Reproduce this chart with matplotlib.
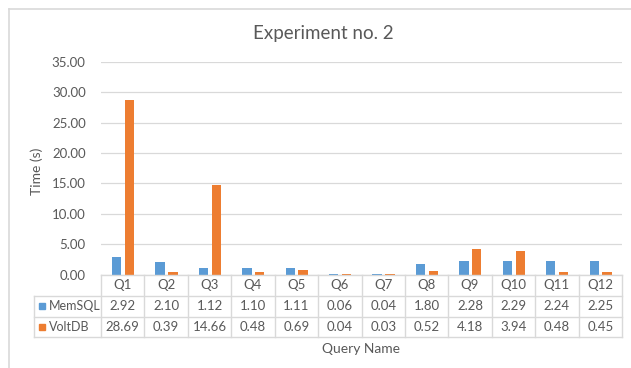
import numpy as np
import matplotlib
matplotlib.use("Agg")
import matplotlib.pyplot as plt
from matplotlib.lines import Line2D
from matplotlib.patches import Rectangle
from matplotlib.transforms import blended_transform_factory

plt.rcParams['font.family'] = ['Lato', 'DejaVu Sans']

queries = ["Q1", "Q2", "Q3", "Q4", "Q5", "Q6", "Q7", "Q8", "Q9", "Q10", "Q11", "Q12"]
memsql = [2.92, 2.10, 1.12, 1.10, 1.11, 0.06, 0.04, 1.80, 2.28, 2.29, 2.24, 2.25]
voltdb = [28.69, 0.39, 14.66, 0.48, 0.69, 0.04, 0.03, 0.52, 4.18, 3.94, 0.48, 0.45]
series_names = ["MemSQL", "VoltDB"]

BLUE = "#5B9BD5"
ORANGE = "#ED7D31"
TXT = "#595959"
GRID = "#D9D9D9"

W, H = 631, 368


def fx(x):
    return x / W


def fy(y):
    return 1 - y / H


fig = plt.figure(figsize=(W / 100, H / 100), dpi=100)

# chart frame (cut off at right/bottom like the screenshot)
fig.add_artist(Line2D([fx(8.5), fx(W + 5)], [fy(8.5), fy(8.5)], color=GRID, lw=1.2))
fig.add_artist(Line2D([fx(8.5), fx(8.5)], [fy(8.5), fy(H + 5)], color=GRID, lw=1.2))

left, right, top, bottom = 101, 622, 62, 274.5
ax = fig.add_axes([fx(left), fy(bottom), fx(right - left), (bottom - top) / H])

x = np.arange(len(queries))
bw = 0.215
ax.bar(x - 0.14, memsql, bw, color=BLUE, zorder=3)
ax.bar(x + 0.155, voltdb, bw, color=ORANGE, zorder=3)

ax.set_xlim(-0.5, len(queries) - 0.5)
ax.set_ylim(0, 35)
ax.set_yticks(np.arange(0, 36, 5))
ax.set_yticklabels([f"{v:.2f}" for v in np.arange(0, 36, 5)])
ax.tick_params(axis='y', length=0, pad=11, labelsize=9.5, labelcolor=TXT)
ax.set_xticks([])
ax.grid(axis='y', color=GRID, lw=0.9, zorder=0)
for s in ax.spines.values():
    s.set_visible(False)

fig.text(fx(323), fy(34), "Experiment no. 2", ha='center', va='center',
         fontsize=13.5, color=TXT)
fig.text(fx(37), fy(171), "Time (s)", rotation=90, ha='center', va='center',
         fontsize=10, color=TXT)
fig.text(fx(361), fy(349), "Query Name", ha='center', va='center',
         fontsize=10, color=TXT)

# data table beneath the axis
tr = blended_transform_factory(ax.transData, fig.transFigure)
rows = [bottom, 295.5, 316.5, 337]
x0, x1 = -0.5, len(queries) - 0.5
fig.add_artist(Line2D([x0, x1], [fy(rows[0])] * 2, color=GRID, lw=1.0, transform=tr))
for r in rows[1:]:
    fig.add_artist(Line2D([fx(33.5), fx(right)], [fy(r)] * 2, color=GRID, lw=1.0))
for b in np.arange(len(queries) + 1) - 0.5:
    fig.add_artist(Line2D([b, b], [fy(rows[0]), fy(rows[-1])], color=GRID, lw=1.0, transform=tr))
fig.add_artist(Line2D([fx(33.5)] * 2, [fy(rows[1]), fy(rows[-1])], color=GRID, lw=1.0))

for i, q in enumerate(queries):
    yc = (rows[0] + rows[1]) / 2
    fig.text(i, fy(yc), q, transform=tr, ha='center', va='center', fontsize=9.5, color=TXT)
for k, (vals, col) in enumerate([(memsql, BLUE), (voltdb, ORANGE)]):
    yc = (rows[k + 1] + rows[k + 2]) / 2
    for i, v in enumerate(vals):
        fig.text(i, fy(yc), f"{v:.2f}", transform=tr, ha='center', va='center',
                 fontsize=9.5, color=TXT)
    fig.add_artist(Rectangle((fx(39), fy(yc + 3)), fx(6), 6 / H, color=col))
    fig.text(fx(49), fy(yc), series_names[k], ha='left', va='center', fontsize=9, color=TXT)

fig.savefig("out.png", dpi=100)
